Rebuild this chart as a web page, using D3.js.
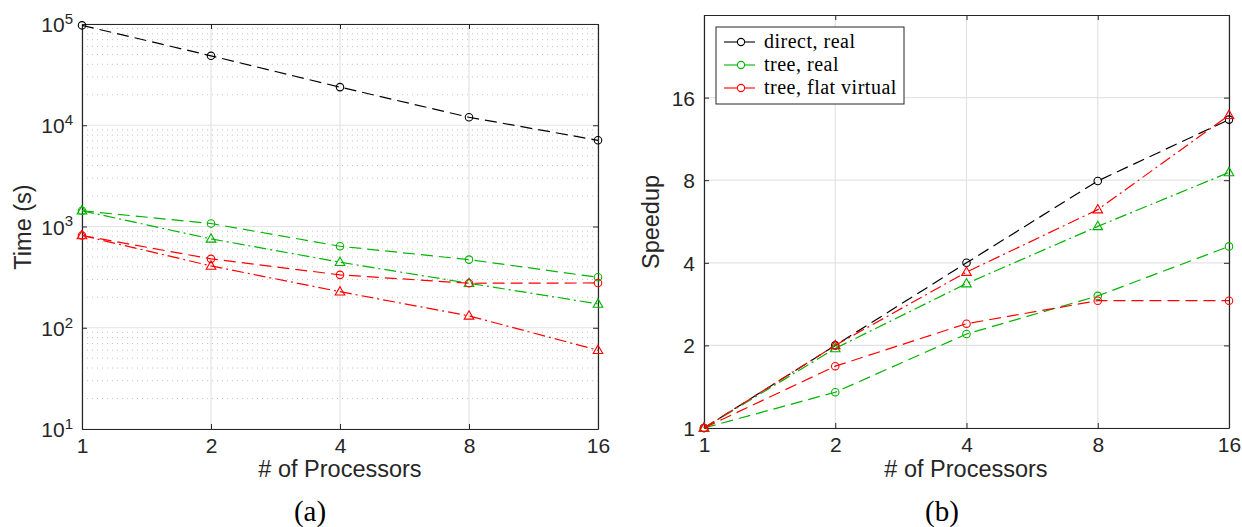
<!DOCTYPE html>
<html>
<head>
<meta charset="utf-8">
<script src="https://cdn.jsdelivr.net/npm/d3@7"></script>
<style>
  html, body { margin: 0; padding: 0; background: #fff; }
  svg { display: block; }
  .tick-label { font-family: "Liberation Sans", Arial, sans-serif; fill: #262626; }
  .serif { font-family: "Liberation Serif", "DejaVu Serif", serif; fill: #000; }
</style>
</head>
<body>
<svg id="chart" width="1242" height="527"></svg>
<script>
// Processor counts
const processors = [1, 2, 4, 8, 16];

// (a) wall-clock time in seconds
const timeDirectReal     = [97000, 48500, 23800, 12000, 7100];
const timeTreeReal       = [1430, 1070, 638, 471, 315];
const timeTreeRealTri    = [1430, 755, 444, 275, 172];
const timeFlatVirtual    = [815, 479, 333, 275, 277];
const timeFlatVirtualTri = [815, 408, 227, 131, 60];

// (b) speedup relative to one processor
const speedDirectReal     = [1, 2.0, 4.0, 7.95, 13.3];
const speedTreeReal       = [1, 1.35, 2.2, 3.03, 4.59];
const speedTreeRealTri    = [1, 1.95, 3.36, 5.43, 8.54];
const speedFlatVirtual    = [1, 1.68, 2.4, 2.91, 2.91];
const speedFlatVirtualTri = [1, 2.0, 3.7, 6.25, 13.8];

// Tick values
const timeTicks = [10, 100, 1000, 10000, 100000];
const speedTicks = [1, 2, 4, 8, 16];

// Legend
const legendLabels = ["direct, real", "tree, real", "tree, flat virtual"];

const BLACK = "#000000", GREEN = "#00b400", RED = "#ff0000";
const DASH = "12,6", DASHDOT = "12,4,2,4";
const AXIS = "#262626", GRID = "#e3e3e3", MINOR = "#c4c4c4";
const TICK_FS = 21, TITLE_FS = 23.5;

const svg = d3.select("#chart");

function drawPanel(cfg) {
  const { x, y, series, yTicks, yFormat, minorGrid } = cfg;
  const [x0, x1] = x.range();
  const [y0, y1] = y.range(); // y0 bottom, y1 top
  const g = svg.append("g");

  // minor grid (dotted) for the log10 axis
  if (minorGrid) {
    const minors = [];
    for (let e = 1; e < 5; e++) for (let m = 2; m <= 9; m++) minors.push(m * Math.pow(10, e));
    g.selectAll(".minor").data(minors).join("line")
      .attr("x1", x0).attr("x2", x1)
      .attr("y1", d => y(d)).attr("y2", d => y(d))
      .attr("stroke", MINOR).attr("stroke-width", 1).attr("stroke-dasharray", "1,4");
  }
  // major grid
  g.selectAll(".hgrid").data(yTicks).join("line")
    .attr("x1", x0).attr("x2", x1)
    .attr("y1", d => y(d)).attr("y2", d => y(d))
    .attr("stroke", GRID).attr("stroke-width", 1.2);
  g.selectAll(".vgrid").data(processors).join("line")
    .attr("x1", d => x(d)).attr("x2", d => x(d))
    .attr("y1", y0).attr("y2", y1)
    .attr("stroke", GRID).attr("stroke-width", 1.2);

  // axes with inward ticks on all four sides
  const tl = -5;
  const bottom = g.append("g").attr("transform", `translate(0,${y0})`)
    .call(d3.axisBottom(x).tickValues(processors).tickFormat(d3.format("d")).tickSizeInner(tl).tickSizeOuter(0).tickPadding(9));
  const top = g.append("g").attr("transform", `translate(0,${y1})`)
    .call(d3.axisTop(x).tickValues(processors).tickFormat("").tickSizeInner(tl).tickSizeOuter(0));
  const left = g.append("g").attr("transform", `translate(${x0},0)`)
    .call(d3.axisLeft(y).tickValues(yTicks).tickFormat(yFormat ? "" : d3.format("d")).tickSizeInner(tl).tickSizeOuter(0).tickPadding(9));
  const right = g.append("g").attr("transform", `translate(${x1},0)`)
    .call(d3.axisRight(y).tickValues(yTicks).tickFormat("").tickSizeInner(tl).tickSizeOuter(0));
  [bottom, top, left, right].forEach(a => {
    a.attr("font-size", TICK_FS).attr("font-family", "Liberation Sans, Arial, sans-serif");
    a.select(".domain").attr("stroke", AXIS).attr("stroke-width", 1.2);
    a.selectAll(".tick line").attr("stroke", AXIS).attr("stroke-width", 1);
    a.selectAll("text").attr("class", "tick-label").attr("font-size", TICK_FS).attr("fill", AXIS);
  });
  bottom.selectAll("text").attr("dy", "0.72em");
  left.selectAll("text").attr("dy", "0.36em");

  if (yFormat) {
    // 10^n labels with superscripted exponent
    left.selectAll(".tick").each(function(d) {
      const t = d3.select(this).select("text").text(null);
      t.append("tspan").text("10");
      t.append("tspan").attr("dy", "-0.55em").attr("font-size", 15).text(Math.round(Math.log10(d)));
    });
  }

  // series lines and markers
  series.forEach(s => {
    const pts = processors.map((p, i) => [x(p), y(s.values[i])]);
    g.append("path").attr("d", d3.line()(pts))
      .attr("fill", "none").attr("stroke", s.color).attr("stroke-width", 1.2)
      .attr("stroke-dasharray", s.dash);
    const sym = s.marker === "circle" ? d3.symbolCircle : d3.symbolTriangle;
    const size = s.marker === "circle" ? 44 : 40;
    g.selectAll(null).data(pts).join("path")
      .attr("transform", d => `translate(${d[0]},${d[1] + (s.marker === "circle" ? 0 : 0.5)})`)
      .attr("d", d3.symbol().type(sym).size(size))
      .attr("fill", "none").attr("stroke", s.color).attr("stroke-width", 1.1);
  });
  return g;
}

// ---------- (a) Time ----------
const xa = d3.scaleLog().base(2).domain([1, 16]).range([82, 598]);
const ya = d3.scaleLog().domain([10, 100000]).range([429, 24]);
drawPanel({
  x: xa, y: ya, yTicks: timeTicks, yFormat: true, minorGrid: true,
  series: [
    { values: timeDirectReal, color: BLACK, dash: DASH, marker: "circle" },
    { values: timeTreeReal, color: GREEN, dash: DASH, marker: "circle" },
    { values: timeTreeRealTri, color: GREEN, dash: DASHDOT, marker: "triangle" },
    { values: timeFlatVirtual, color: RED, dash: DASH, marker: "circle" },
    { values: timeFlatVirtualTri, color: RED, dash: DASHDOT, marker: "triangle" }
  ]
});

// ---------- (b) Speedup ----------
const xb = d3.scaleLog().base(2).domain([1, 16]).range([704, 1229]);
const yb = d3.scaleLog().base(2).domain([1, 32]).range([428, 15]);
drawPanel({
  x: xb, y: yb, yTicks: speedTicks, yFormat: false, minorGrid: false,
  series: [
    { values: speedDirectReal, color: BLACK, dash: DASH, marker: "circle" },
    { values: speedTreeReal, color: GREEN, dash: DASH, marker: "circle" },
    { values: speedTreeRealTri, color: GREEN, dash: DASHDOT, marker: "triangle" },
    { values: speedFlatVirtual, color: RED, dash: DASH, marker: "circle" },
    { values: speedFlatVirtualTri, color: RED, dash: DASHDOT, marker: "triangle" }
  ]
});

// legend
const leg = svg.append("g").attr("transform", "translate(716,27)");
leg.append("rect").attr("width", 188).attr("height", 77)
  .attr("fill", "#fff").attr("stroke", AXIS).attr("stroke-width", 1);
const legColors = [BLACK, GREEN, RED];
legendLabels.forEach((lab, i) => {
  const yy = 15 + i * 23;
  leg.append("line").attr("x1", 8).attr("x2", 39).attr("y1", yy).attr("y2", yy)
    .attr("stroke", legColors[i]).attr("stroke-width", 1.1);
  leg.append("circle").attr("cx", 25).attr("cy", yy).attr("r", 3.6)
    .attr("fill", "#fff").attr("stroke", legColors[i]).attr("stroke-width", 1.1);
  leg.append("text").attr("class", "serif").attr("x", 48).attr("y", yy + 6)
    .attr("font-size", 20).attr("letter-spacing", 0.5).text(lab);
});

// axis titles
const sans = "Liberation Sans, Arial, sans-serif";
svg.append("text").attr("x", 340).attr("y", 477).attr("text-anchor", "middle")
  .attr("font-family", sans).attr("font-size", TITLE_FS).attr("fill", AXIS).text("# of Processors");
svg.append("text").attr("x", 966).attr("y", 477).attr("text-anchor", "middle")
  .attr("font-family", sans).attr("font-size", TITLE_FS).attr("fill", AXIS).text("# of Processors");
svg.append("text").attr("transform", "translate(31,227) rotate(-90)").attr("text-anchor", "middle")
  .attr("font-family", sans).attr("font-size", TITLE_FS).attr("fill", AXIS).text("Time (s)");
svg.append("text").attr("transform", "translate(659,222) rotate(-90)").attr("text-anchor", "middle")
  .attr("font-family", sans).attr("font-size", TITLE_FS).attr("fill", AXIS).text("Speedup");

// panel captions
svg.append("text").attr("class", "serif").attr("x", 310).attr("y", 521).attr("text-anchor", "middle")
  .attr("font-size", 29).text("(a)");
svg.append("text").attr("class", "serif").attr("x", 942).attr("y", 521).attr("text-anchor", "middle")
  .attr("font-size", 29).text("(b)");
</script>
</body>
</html>
